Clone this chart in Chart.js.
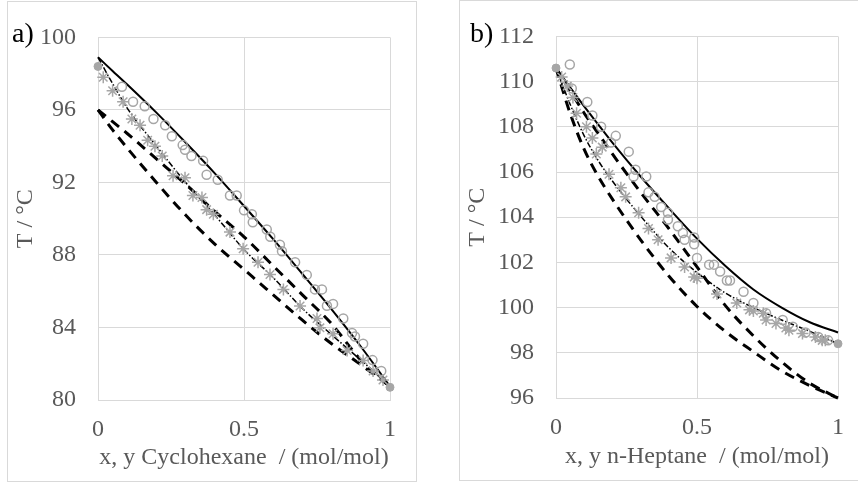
<!DOCTYPE html>
<html>
<head>
<meta charset="utf-8">
<script src="https://cdn.jsdelivr.net/npm/chart.js@4.4.1/dist/chart.umd.min.js"></script>
<style>
  body { margin: 0; background: #fff; width: 858px; height: 486px; overflow: hidden; position: relative; font-family: "Liberation Serif", serif; }
  canvas { position: absolute; }
  .tag { position: absolute; font-size: 28px; line-height: 28px; color: #000; }
</style>
</head>
<body>
<canvas id="chartA" width="410" height="481" style="left:7px;top:1px"></canvas>
<canvas id="chartB" width="400" height="481" style="left:459px;top:0px"></canvas>
<div class="tag" style="left:12px;top:19px">a)</div>
<div class="tag" style="left:470px;top:19px">b)</div>
<script>
// ---- a) cyclohexane ----
const aModelX = [0, 0.05, 0.1, 0.2, 0.3, 0.4, 0.5, 0.6, 0.7, 0.8, 0.9, 1];
const aDew1 = [98.9, 98.15, 97.4, 95.85, 94.2, 92.5, 90.7, 88.87, 86.95, 85.0, 82.95, 80.75];
const aBub1 = [98.9, 97.45, 96.1, 94.0, 92.0, 90.2, 88.3, 86.75, 85.05, 83.6, 82.2, 80.75];
const aDew2 = [96, 95.35, 94.7, 93.3, 91.9, 90.4, 89.0, 87.4, 85.8, 84.2, 82.2, 80.75];
const aBub2 = [96, 94.9, 93.9, 92.0, 90.2, 88.6, 87.2, 85.8, 84.4, 83.1, 81.95, 80.75];

const aCircX = [0.082, 0.12, 0.16, 0.19, 0.23, 0.253, 0.29, 0.298, 0.32, 0.36, 0.372, 0.41, 0.452, 0.475, 0.5, 0.527, 0.53, 0.578, 0.59, 0.623, 0.63, 0.675, 0.715, 0.743, 0.767, 0.784, 0.805, 0.84, 0.87, 0.88, 0.908, 0.94, 0.97];
const aCircT = [97.28, 96.45, 96.2, 95.5, 95.15, 94.55, 94.06, 93.8, 93.46, 93.19, 92.42, 92.15, 91.28, 91.28, 90.46, 90.25, 89.8, 89.4, 89.0, 88.56, 88.2, 87.6, 86.9, 86.1, 86.1, 85.2, 85.3, 84.5, 83.7, 83.5, 83.1, 82.2, 81.6];
const aCrossX = [0.018, 0.05, 0.086, 0.116, 0.144, 0.17, 0.195, 0.22, 0.257, 0.298, 0.325, 0.356, 0.372, 0.395, 0.452, 0.497, 0.548, 0.589, 0.635, 0.692, 0.75, 0.76, 0.805, 0.853, 0.908, 0.942, 0.976];
const aCrossT = [97.8, 97.06, 96.45, 95.5, 95.15, 94.33, 94.0, 93.46, 92.37, 92.26, 91.28, 91.17, 90.5, 90.25, 89.26, 88.34, 87.6, 86.92, 86.1, 85.18, 84.5, 83.98, 83.65, 82.73, 82.18, 81.6, 81.1];
const aPureX = [0, 1];
const aPureT = [98.4, 80.7];

// ---- b) n-heptane ----
const bModelX = [0, 0.05, 0.1, 0.15, 0.2, 0.3, 0.4, 0.5, 0.6, 0.7, 0.8, 0.9, 1];
const bDew1 = [110.6, 109.75, 108.9, 108.1, 107.3, 105.8, 104.4, 103.05, 101.85, 100.8, 100.0, 99.35, 98.9];
const bBub1 = [110.6, 109.0, 107.6, 106.5, 105.6, 104.05, 102.65, 101.55, 100.65, 100.0, 99.45, 98.95, 98.4];
const bDew2 = [110.6, 109.6, 108.6, 107.7, 106.8, 105.1, 103.5, 101.8, 100.1, 98.75, 97.6, 96.65, 96.0];
const bBub2 = [110.6, 108.6, 107.0, 105.8, 104.8, 103.0, 101.4, 100.05, 98.95, 98.05, 97.2, 96.55, 96.0];

const bCircX = [0.049, 0.056, 0.111, 0.129, 0.16, 0.195, 0.212, 0.258, 0.275, 0.282, 0.32, 0.328, 0.35, 0.373, 0.397, 0.397, 0.432, 0.45, 0.456, 0.49, 0.49, 0.5, 0.543, 0.56, 0.582, 0.606, 0.617, 0.665, 0.7, 0.745, 0.804, 0.84, 0.885, 0.93, 0.965];
const bCircT = [110.76, 109.7, 109.1, 108.5, 108.0, 107.3, 107.6, 106.9, 105.8, 106.1, 105.8, 105.1, 104.9, 104.45, 104.2, 103.9, 103.6, 103.3, 103.0, 103.1, 102.8, 102.2, 101.9, 101.9, 101.6, 101.2, 101.2, 100.7, 100.2, 99.75, 99.45, 99.15, 98.9, 98.7, 98.55];
const bCrossX = [0.02, 0.04, 0.06, 0.073, 0.108, 0.129, 0.143, 0.164, 0.188, 0.23, 0.247, 0.293, 0.328, 0.362, 0.408, 0.456, 0.49, 0.5, 0.571, 0.641, 0.686, 0.7, 0.735, 0.745, 0.78, 0.815, 0.826, 0.874, 0.92, 0.944, 0.955];
const bCrossT = [110.2, 109.8, 109.3, 108.6, 108.0, 107.5, 106.8, 107.1, 105.9, 105.3, 104.9, 104.2, 103.5, 103.0, 102.2, 101.8, 101.35, 101.3, 100.6, 100.2, 99.9, 99.85, 99.75, 99.45, 99.3, 99.1, 99.0, 98.85, 98.7, 98.55, 98.55];
const bPureX = [0, 1];
const bPureT = [110.6, 98.4];

const GREY = '#a6a6a6';
const GRID = '#d9d9d9';
const TICK = '#595959';
const FONT = '"Liberation Serif", "Times New Roman", serif';

const pts = (xs, ys) => xs.map((x, i) => ({ x: x, y: ys[i] }));

function markerSets(cx, ct, kx, kt, px, pt) {
    return [
        { data: pts(px, pt), pointStyle: 'circle', pointRadius: 4, backgroundColor: GREY, borderColor: GREY, borderWidth: 1, showLine: false, clip: false },
        { data: pts(cx, ct), pointStyle: 'circle', pointRadius: 4.5, backgroundColor: 'rgba(0,0,0,0)', borderColor: GREY, borderWidth: 1.5, showLine: false, clip: false },
        { data: pts(kx, kt), pointStyle: 'star', pointRadius: 6, backgroundColor: GREY, borderColor: GREY, borderWidth: 1.5, showLine: false, clip: false }
    ];
}

function lineSet(xs, ys, dash, width) {
    return { data: pts(xs, ys), showLine: true, pointRadius: 0, borderColor: '#000', borderWidth: width, borderDash: dash, cubicInterpolationMode: 'monotone', fill: false, clip: false };
}

// outer frame of each panel
const framePlugin = {
    id: 'frame',
    beforeDraw(chart) {
        const ctx = chart.ctx;
        ctx.save();
        ctx.strokeStyle = GRID;
        ctx.lineWidth = 1;
        ctx.strokeRect(0.5, 0.5, chart.width - 1, chart.height - 1);
        ctx.restore();
    }
};

function makePanel(id, cfg) {
    return new Chart(document.getElementById(id), {
        type: 'scatter',
        data: { datasets: cfg.datasets },
        plugins: [framePlugin],
        options: {
            responsive: false,
            animation: false,
            layout: { padding: { left: 0, top: cfg.top, right: cfg.right, bottom: 0 } },
            plugins: { legend: { display: false }, tooltip: { enabled: false } },
            scales: {
                x: {
                    min: 0, max: 1,
                    ticks: { stepSize: 0.5, color: TICK, font: { family: FONT, size: 24 }, padding: 15, maxRotation: 0,
                             callback: v => String(v) },
                    grid: { color: GRID, drawTicks: false },
                    border: { color: GRID },
                    title: { display: true, text: cfg.xTitle, color: TICK, font: { family: FONT, size: 24 }, padding: { top: 0, bottom: 10 } },
                    afterFit: s => { s.height = cfg.xHeight; }
                },
                y: {
                    min: cfg.yMin, max: cfg.yMax,
                    ticks: { stepSize: cfg.yStep, color: TICK, font: { family: FONT, size: 24 }, padding: 22 },
                    grid: { color: GRID, drawTicks: false },
                    border: { color: GRID },
                    title: { display: true, text: 'T / °C', color: TICK, font: { family: FONT, size: 24 }, padding: { top: 4, bottom: 0 } },
                    afterFit: s => { s.width = cfg.yWidth; }
                }
            }
        }
    });
}

document.addEventListener("DOMContentLoaded", () => {
    makePanel('chartA', {
        top: 32, right: 27, yWidth: 91, xHeight: 82,
        yMin: 80, yMax: 100, yStep: 4,
        xTitle: 'x, y Cyclohexane  / (mol/mol)',
        datasets: [
            ...markerSets(aCircX, aCircT, aCrossX, aCrossT, aPureX, aPureT),
            lineSet(aModelX, aDew1, [], 2),
            lineSet(aModelX, aBub1, [6, 2, 1.5, 2], 1.5),
            lineSet(aModelX, aDew2, [10, 7], 3),
            lineSet(aModelX, aBub2, [10, 7], 3)
        ]
    });

    makePanel('chartB', {
        top: 36, right: 16, yWidth: 97, xHeight: 83,
        yMin: 96, yMax: 112, yStep: 2,
        xTitle: 'x, y n-Heptane  / (mol/mol)',
        datasets: [
            ...markerSets(bCircX, bCircT, bCrossX, bCrossT, bPureX, bPureT),
            lineSet(bModelX, bDew1, [], 2),
            lineSet(bModelX, bBub1, [6, 2, 1.5, 2], 1.5),
            lineSet(bModelX, bDew2, [10, 7], 3),
            lineSet(bModelX, bBub2, [10, 7], 3)
        ]
    });
});
</script>
</body>
</html>
